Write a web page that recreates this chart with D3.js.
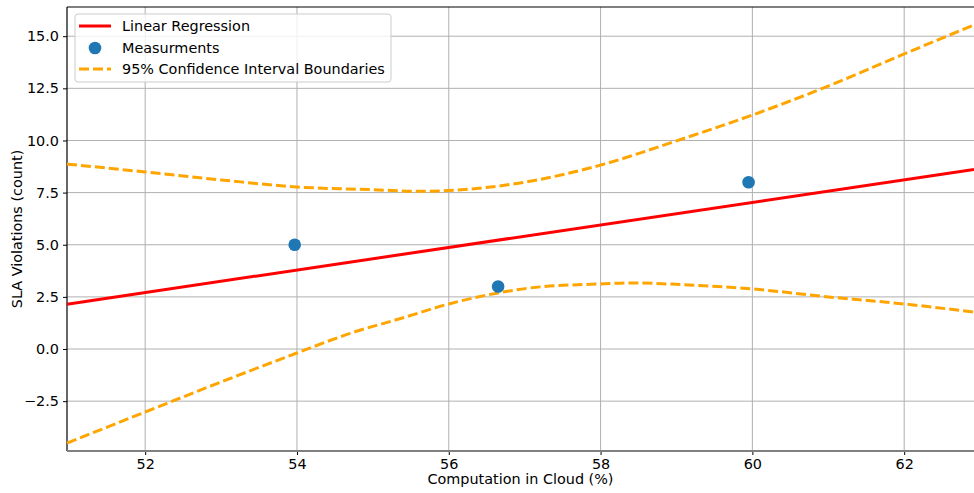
<!DOCTYPE html>
<html>
<head>
<meta charset="utf-8">
<script src="https://cdn.jsdelivr.net/npm/d3@7"></script>
<style>
  body { margin: 0; background: #fff; }
  svg text { font-family: "DejaVu Sans", sans-serif; }
</style>
</head>
<body>
<div id="chart"></div>
<script>
// measured points
const measX = [53.97, 56.65, 59.95];
const measY = [5.0, 3.0, 8.0];

// regression line end points
const regX = [50.97, 62.92];
const regY = [2.15, 8.61];

// confidence interval boundaries
const ciX     = [50.97, 52, 53, 54, 55, 55.6, 56, 57, 58, 59, 60, 61, 62, 62.92];
const ciUpper = [8.87, 8.49, 8.11, 7.77, 7.64, 7.56, 7.6, 8.0, 8.82, 9.98, 11.22, 12.61, 14.15, 15.54];
const ciLowX  = [50.97, 52, 53, 54, 54.7, 55.4, 56, 56.65, 57.2, 58, 58.4, 59, 60, 61, 62, 62.92];
const ciLower = [-4.51, -3.02, -1.58, -0.19, 0.75, 1.5, 2.16, 2.69, 2.98, 3.12, 3.17, 3.10, 2.88, 2.5, 2.16, 1.77];

const xTicks = [52, 54, 56, 58, 60, 62];
const yTicks = [-2.5, 0.0, 2.5, 5.0, 7.5, 10.0, 12.5, 15.0];

const legendLabels = ["Linear Regression", "Measurments", "95% Confidence Interval Boundaries"];

const svgWidth = 974, svgHeight = 493;
const margin = {top: 7, right: 0, bottom: 42, left: 67};
const width = svgWidth - margin.left - margin.right;
const height = svgHeight - margin.top - margin.bottom;
const fs = 14.4;

const x = d3.scaleLinear().domain([50.97, 62.92]).range([0, width]);
const y = d3.scaleLinear().domain([-4.89, 16.4]).range([height, 0]);

const svg = d3.select("#chart").append("svg")
    .attr("width", svgWidth)
    .attr("height", svgHeight);

const g = svg.append("g")
    .attr("transform", `translate(${margin.left},${margin.top})`);

// grid
g.append("g").attr("class", "grid-x")
  .selectAll("line").data(xTicks).join("line")
    .attr("x1", d => x(d)).attr("x2", d => x(d))
    .attr("y1", 0).attr("y2", height)
    .attr("stroke", "#b0b0b0").attr("stroke-width", 1);
g.append("g").attr("class", "grid-y")
  .selectAll("line").data(yTicks).join("line")
    .attr("y1", d => y(d)).attr("y2", d => y(d))
    .attr("x1", 0).attr("x2", width)
    .attr("stroke", "#b0b0b0").attr("stroke-width", 1);

const fmtMinus = d => d3.format(".1f")(d).replace("-", "\u2212");

// axes
const xAxis = d3.axisBottom(x).tickValues(xTicks).tickSize(4).tickPadding(4).tickFormat(d3.format("d"));
const yAxis = d3.axisLeft(y).tickValues(yTicks).tickSize(4).tickPadding(4).tickFormat(fmtMinus);

const gX = g.append("g").attr("transform", `translate(0,${height})`).call(xAxis);
const gY = g.append("g").call(yAxis);
[gX, gY].forEach(a => {
  a.select(".domain").remove();
  a.selectAll("text").attr("font-size", fs).attr("fill", "#000").attr("font-family", "DejaVu Sans");
  a.selectAll("line").attr("stroke", "#000");
});

// spines
g.append("line").attr("x1", 0).attr("x2", width).attr("y1", 0).attr("y2", 0)
  .attr("stroke", "#000").attr("stroke-width", 1.2);
g.append("line").attr("x1", 0).attr("x2", 0).attr("y1", 0).attr("y2", height)
  .attr("stroke", "#000").attr("stroke-width", 1.2);
g.append("line").attr("x1", 0).attr("x2", width).attr("y1", height).attr("y2", height)
  .attr("stroke", "#808080").attr("stroke-width", 2);

const plot = g.append("g");

// CI boundaries
const ciLine = d3.line().x(d => x(d[0])).y(d => y(d[1])).curve(d3.curveMonotoneX);
plot.append("path")
  .datum(ciX.map((v, i) => [v, ciUpper[i]]))
  .attr("d", ciLine)
  .attr("fill", "none").attr("stroke", "#ffa500").attr("stroke-width", 3)
  .attr("stroke-dasharray", "10,4");
plot.append("path")
  .datum(ciLowX.map((v, i) => [v, ciLower[i]]))
  .attr("d", ciLine)
  .attr("fill", "none").attr("stroke", "#ffa500").attr("stroke-width", 3)
  .attr("stroke-dasharray", "10,4");

// regression
plot.append("path")
  .datum(regX.map((v, i) => [v, regY[i]]))
  .attr("d", d3.line().x(d => x(d[0])).y(d => y(d[1])))
  .attr("fill", "none").attr("stroke", "#ff0000").attr("stroke-width", 3);

// points
plot.selectAll("circle").data(measX.map((v, i) => [v, measY[i]])).join("circle")
  .attr("cx", d => x(d[0])).attr("cy", d => y(d[1]))
  .attr("r", 6.3).attr("fill", "#1f77b4");

// axis labels
svg.append("text")
  .attr("x", margin.left + width / 2).attr("y", 484)
  .attr("text-anchor", "middle").attr("font-size", fs)
  .text("Computation in Cloud (%)");
svg.append("text")
  .attr("transform", `translate(22,${margin.top + height / 2}) rotate(-90)`)
  .attr("text-anchor", "middle").attr("font-size", fs)
  .text("SLA Violations (count)");

// legend
const leg = svg.append("g").attr("transform", "translate(75,14)");
leg.append("rect")
  .attr("width", 316).attr("height", 68).attr("rx", 3)
  .attr("fill", "#fff").attr("fill-opacity", 0.8)
  .attr("stroke", "#cccccc");
const rowY = [12, 34, 55];
leg.append("line").attr("x1", 4).attr("x2", 36).attr("y1", rowY[0]).attr("y2", rowY[0])
  .attr("stroke", "#ff0000").attr("stroke-width", 3);
leg.append("circle").attr("cx", 20).attr("cy", rowY[1]).attr("r", 6.3).attr("fill", "#1f77b4");
leg.append("line").attr("x1", 4).attr("x2", 36).attr("y1", rowY[2]).attr("y2", rowY[2])
  .attr("stroke", "#ffa500").attr("stroke-width", 3).attr("stroke-dasharray", "10,4");
leg.selectAll("text.lab").data(legendLabels).join("text")
  .attr("class", "lab")
  .attr("x", 47).attr("y", (d, i) => rowY[i] + 5)
  .attr("font-size", fs).attr("fill", "#000")
  .text(d => d);
</script>
</body>
</html>
